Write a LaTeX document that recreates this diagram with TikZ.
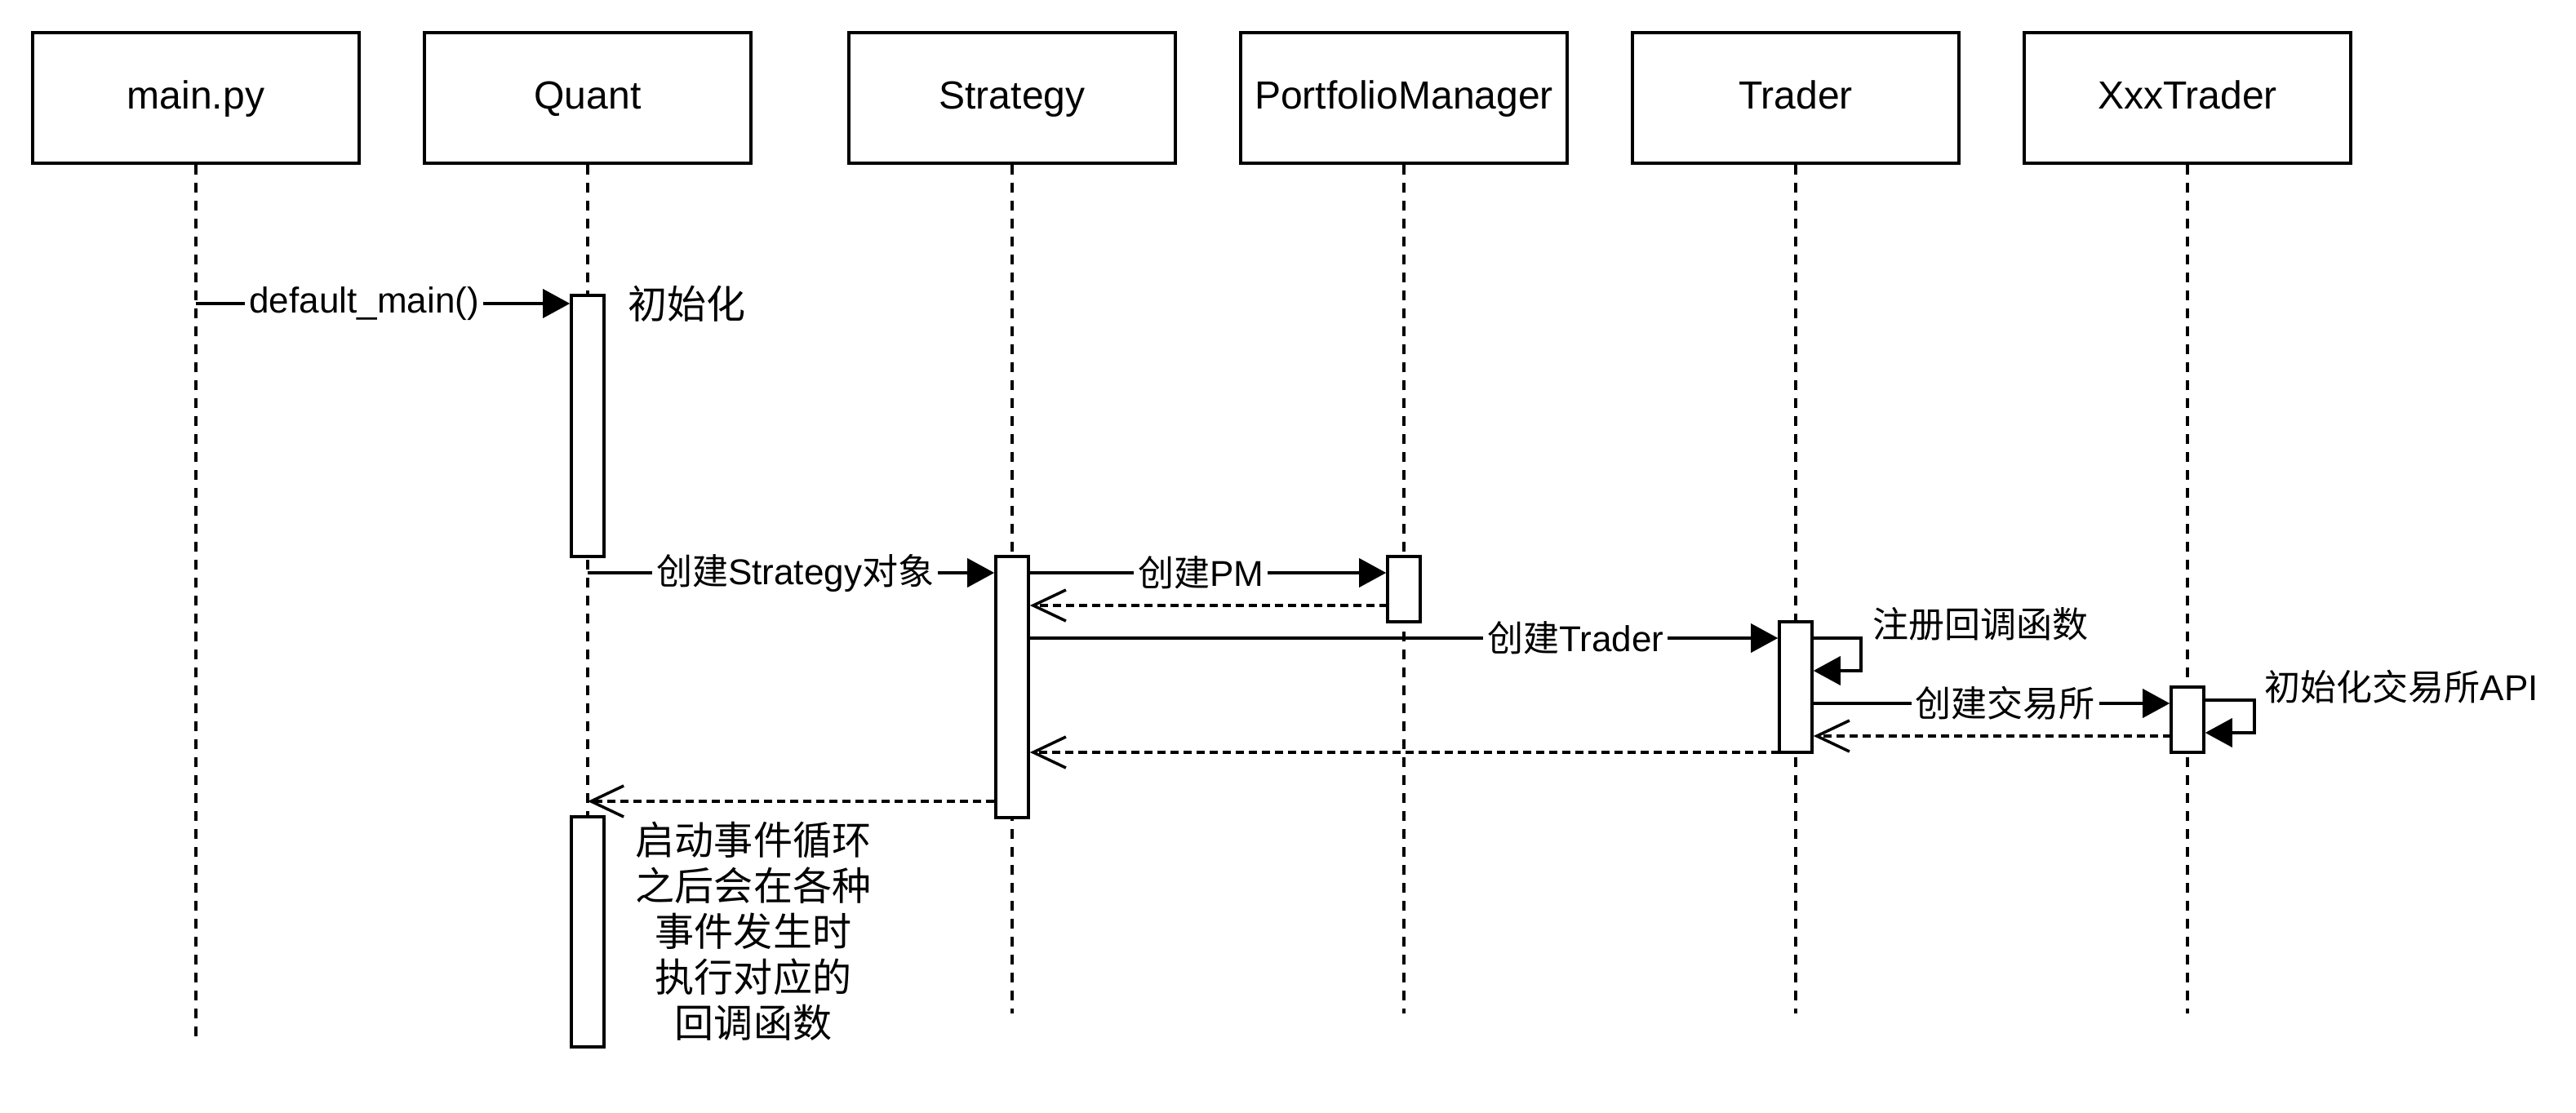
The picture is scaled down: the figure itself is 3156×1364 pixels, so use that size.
\documentclass[tikz,border=0pt]{standalone}
\usepackage{fontspec}
\setmainfont{Liberation Sans}
\newfontfamily\zhfont{Noto Sans CJK SC}
\newcommand{\zh}[1]{{\zhfont #1}}
\usepackage{tikz}
\usetikzlibrary{arrows.meta}

\begin{document}
\begin{tikzpicture}[x=0.01cm, y=-0.01cm, line width=1pt,
    actor/.style={draw, minimum width=4cm, minimum height=1.6cm, inner sep=0, text height=0.97em, text depth=0.2em, font=\fontsize{13.66pt}{16pt}\selectfont},
    act/.style={draw, fill=white, minimum width=0.4cm, inner sep=0},
    life/.style={dash pattern=on 0.12cm off 0.1cm},
    msg/.style={-{Triangle[length=0.33cm, width=0.35cm]}},
    ret/.style={dash pattern=on 0.1cm off 0.06cm, -{Straight Barb[length=0.4cm, width=0.38cm]}},
    lbl/.style={fill=white, inner xsep=0.05cm, inner ysep=0.02cm, font=\fontsize{12.52pt}{15pt}\selectfont},
    note/.style={inner sep=0, font=\fontsize{13.66pt}{15.9pt}\selectfont}]
    \useasboundingbox (0, 0) rectangle (3156, 1364);

    % actors
    \node (mainpy) at (240, 120) [actor] {main.py};
    \node (quant) at (720, 120) [actor] {Quant};
    \node (strategy) at (1240, 120) [actor] {Strategy};
    \node (pm) at (1720, 120) [actor] {PortfolioManager};
    \node (trader) at (2200, 120) [actor] {Trader};
    \node (xxx) at (2680, 120) [actor] {XxxTrader};

    % lifelines
    \coordinate (mainpyEnd) at (240, 1270);
    \coordinate (quantEnd) at (720, 1242);
    \coordinate (strategyEnd) at (1240, 1242);
    \coordinate (pmEnd) at (1720, 1242);
    \coordinate (traderEnd) at (2200, 1242);
    \coordinate (xxxEnd) at (2680, 1242);
    \draw[life] (mainpy) -- (mainpyEnd);
    \draw[life] (quant) -- (quantEnd);
    \draw[life] (strategy) -- (strategyEnd);
    \draw[life] (pm) -- (pmEnd);
    \draw[life] (trader) -- (traderEnd);
    \draw[life] (xxx) -- (xxxEnd);

    % activations
    \node (qa1) at (720, 522) [act, minimum height=3.2cm] {};
    \node (qa2) at (720, 1142) [act, minimum height=2.82cm] {};
    \node (sa) at (1240, 842) [act, minimum height=3.2cm] {};
    \node (pa) at (1720, 722) [act, minimum height=0.8cm] {};
    \node (ta) at (2200, 842) [act, minimum height=1.6cm] {};
    \node (xa) at (2680, 882) [act, minimum height=0.8cm] {};

    % message levels
    \coordinate (call1) at (240, 372);
    \coordinate (call2) at (720, 702);
    \coordinate (ret1) at (1700, 742);
    \coordinate (call3) at (1260, 782);
    \coordinate (loop1a) at (2280, 782);
    \coordinate (loop1) at (2280, 822);
    \coordinate (call4) at (2220, 862);
    \coordinate (loop2a) at (2762, 858);
    \coordinate (loop2) at (2762, 898);
    \coordinate (ret2) at (2660, 902);
    \coordinate (ret3) at (2180, 922);
    \coordinate (ret4) at (720, 982);

    \draw[msg] (call1) -- (qa1.west |- call1) node[lbl, pos=0.45] {default\_main()};
    \draw[msg] (call2) -- (sa.west |- call2) node[lbl, pos=0.51] {\zh{创建}Strategy\zh{对象}};
    \draw[msg] (sa.east |- call2) -- (pa.west |- call2) node[lbl, pos=0.48] {\zh{创建}PM};
    \draw[ret] (ret1) -- (sa.east |- ret1);
    \draw[msg] (call3) -- (ta.west |- call3) node[lbl, pos=0.73] {\zh{创建}Trader};
    \draw[msg] (ta.east |- loop1a) -- (loop1a) |- (ta.east |- loop1);
    \draw[msg] (call4) -- (xa.west |- call4) node[lbl, pos=0.54] {\zh{创建交易所}};
    \draw[msg] (xa.east |- loop2a) -- (loop2a) |- (xa.east |- loop2);
    \draw[ret] (ret2) -- (ta.east |- ret2);
    \draw[ret] (ret3) -- (sa.east |- ret3);
    \draw[ret] (sa.west |- ret4) -- (ret4);

    % notes
    \node (initNote) at (768, 372) [note, anchor=west] {\zh{初始化}};
    \node (regNote) at (2293, 765) [note, anchor=west, font=\fontsize{12.52pt}{15pt}\selectfont] {\zh{注册回调函数}};
    \node (apiNote) at (2773, 842) [note, anchor=west, font=\fontsize{12.52pt}{15pt}\selectfont] {\zh{初始化交易所}API};
    \node (loopNote) at (923, 1141) [note, align=center] {\zh{启动事件循环}\\ \zh{之后会在各种}\\ \zh{事件发生时}\\ \zh{执行对应的}\\ \zh{回调函数}};
\end{tikzpicture}
\end{document}
